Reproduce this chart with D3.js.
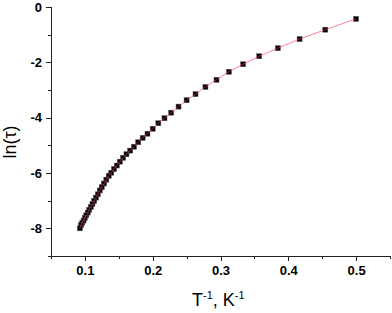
<!DOCTYPE html>
<meta charset="utf-8">
<style>
body { margin: 0; background: #fff; }
.axis path, .axis line { fill: none; stroke: #222; shape-rendering: crispEdges; }
.axis text { font: bold 13px "Liberation Sans", Arial, sans-serif; fill: #000; }
.title { font-family: "Liberation Sans", Arial, sans-serif; fill: #000; }
</style>
<svg width="392" height="313"></svg>
<script src="https://d3js.org/d3.v7.min.js"></script>
<script>

// temperatures (K) and ln(tau)
var temps = [2.0, 2.2, 2.4, 2.6, 2.8, 3.0, 3.2, 3.4, 3.6, 3.8,
             4.0, 4.2, 4.4, 4.6, 4.8, 5.0, 5.2, 5.4, 5.6, 5.8,
             6.0, 6.2, 6.4, 6.6, 6.8, 7.0, 7.2, 7.4, 7.6, 7.8,
             8.0, 8.2, 8.4, 8.6, 8.8, 9.0, 9.2, 9.4, 9.6, 9.8,
             10.0, 10.2, 10.4, 10.6, 10.8];
var lnTau = [-0.43, -0.82, -1.16, -1.49, -1.78, -2.07, -2.34, -2.63, -2.89, -3.15,
             -3.37, -3.60, -3.82, -4.02, -4.20, -4.40, -4.58, -4.73, -4.89, -5.05,
             -5.19, -5.32, -5.45, -5.59, -5.73, -5.86, -5.99, -6.10, -6.24, -6.38,
             -6.51, -6.63, -6.77, -6.89, -7.01, -7.12, -7.23, -7.33, -7.43, -7.53,
             -7.62, -7.72, -7.80, -7.88, -8.00];

var xMajor = [0.1, 0.2, 0.3, 0.4, 0.5];
var xMinor = [0.05, 0.15, 0.25, 0.35, 0.45, 0.55];
var yMajor = [0, -2, -4, -6, -8];
var yMinor = [-1, -3, -5, -7, -9];

var data = temps.map(function(t, i) { return {x: 1 / t, y: lnTau[i]}; });

var svg = d3.select("svg"),
    margin = {top: 7, right: 2, bottom: 57, left: 51},
    width = svg.attr("width") - margin.left - margin.right,
    height = svg.attr("height") - margin.top - margin.bottom;

var x = d3.scaleLinear().domain([0.05, 0.55]).range([0, width]);
var y = d3.scaleLinear().domain([-9, 0]).range([height, 0]);

var g = svg.append("g")
    .attr("transform", "translate(" + margin.left + "," + margin.top + ")");

// minor ticks
g.append("g")
    .attr("class", "axis")
    .attr("transform", "translate(0," + height + ")")
    .call(d3.axisBottom(x).tickValues(xMinor).tickSize(3).tickFormat(""));
g.append("g")
    .attr("class", "axis")
    .call(d3.axisLeft(y).tickValues(yMinor).tickSize(3).tickFormat(""));

// major ticks
g.append("g")
    .attr("class", "axis")
    .attr("transform", "translate(0," + height + ")")
    .call(d3.axisBottom(x).tickValues(xMajor).tickSize(5).tickSizeOuter(0)
      .tickPadding(5).tickFormat(function(d) { return String(d); }));
g.append("g")
    .attr("class", "axis")
    .call(d3.axisLeft(y).tickValues(yMajor).tickSize(5).tickSizeOuter(0)
      .tickPadding(4).tickFormat(function(d) { return String(d); }));

// points
g.append("g").selectAll("rect")
    .data(data)
  .enter().append("rect")
    .attr("x", function(d) { return x(d.x) - 2.5; })
    .attr("y", function(d) { return y(d.y) - 2.5; })
    .attr("width", 5)
    .attr("height", 5)
    .attr("fill", "#000")
    .attr("stroke", "#555")
    .attr("stroke-width", 0.5);

// fit line
var line = d3.line()
    .x(function(d) { return x(d.x); })
    .y(function(d) { return y(d.y); })
    .curve(d3.curveCatmullRom);

g.append("path")
    .datum(data.slice().sort(function(a, b) { return a.x - b.x; }))
    .attr("d", line)
    .attr("fill", "none")
    .attr("stroke", "#ff3355")
    .attr("stroke-opacity", 0.7)
    .attr("stroke-width", 0.9);

// axis titles
var xt = svg.append("text")
    .attr("class", "title")
    .attr("x", 192)
    .attr("y", 306)
    .attr("font-size", 18);
xt.append("tspan").text("T");
xt.append("tspan").attr("font-size", 11).attr("dy", -7).text("-1");
xt.append("tspan").attr("dy", 7).text(", K");
xt.append("tspan").attr("font-size", 11).attr("dy", -7).text("-1");

svg.append("text")
    .attr("class", "title")
    .attr("transform", "translate(16,142) rotate(-90)")
    .attr("text-anchor", "middle")
    .attr("font-size", 18)
    .text("ln(τ)");

</script>
